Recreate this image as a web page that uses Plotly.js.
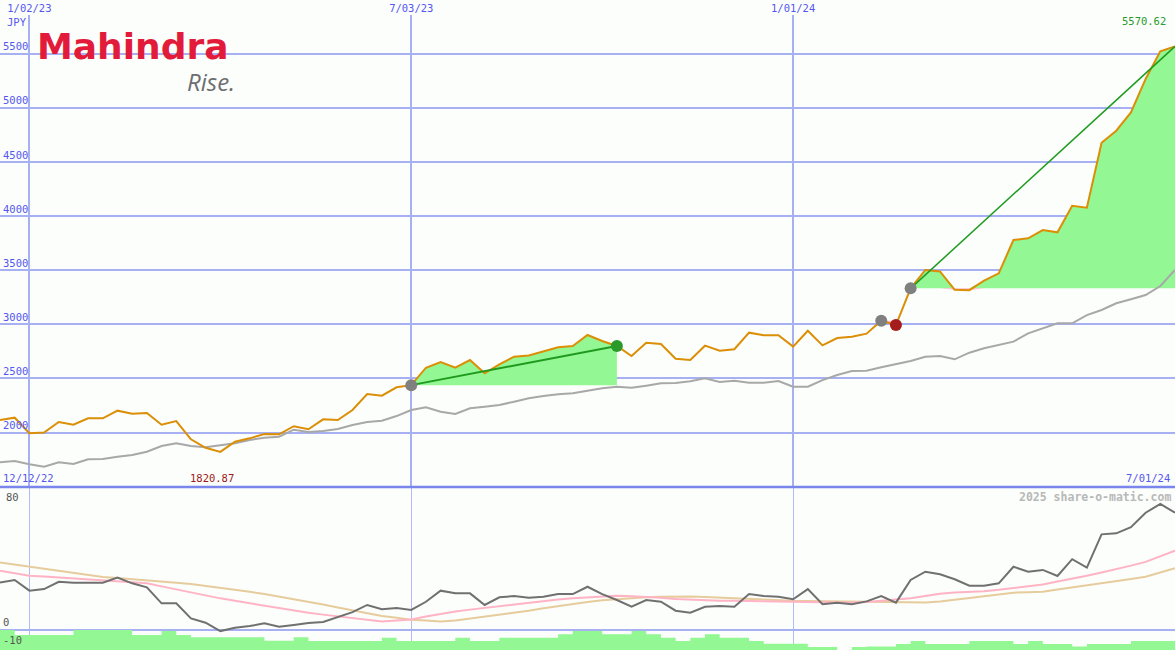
<!DOCTYPE html>
<html>
<head>
<meta charset="utf-8">
<script src="https://cdn.plot.ly/plotly-3.0.1.min.js"></script>
<style>
  html, body { margin: 0; padding: 0; background: #fbfefb; }
  #chart { width: 1175px; height: 650px; }
</style>
</head>
<body>
<div id="chart"></div>
<script>
// ---------- data (weekly closes, JPY) ----------
const startDate = '2022-12-19';   // first weekly observation
const nWeeks = 81;
const dates = [];
(function () {
  const d = new Date(startDate + 'T00:00:00Z');
  for (let k = 0; k < nWeeks; k++) {
    dates.push(d.toISOString().slice(0, 10));
    d.setUTCDate(d.getUTCDate() + 7);
  }
})();

const price = [
  2115, 2137, 1993, 1999, 2097, 2072, 2131, 2131, 2202, 2174,
  2180, 2072, 2106, 1937, 1859, 1820.87, 1915, 1946, 1986, 1983,
  2058, 2030, 2122, 2116, 2208, 2356, 2340, 2418, 2438, 2599,
  2652, 2599, 2670, 2547, 2630, 2701, 2713, 2751, 2788, 2800,
  2902, 2846, 2800, 2707, 2830, 2818, 2682, 2670, 2803, 2757,
  2770, 2923, 2899, 2899, 2794, 2941, 2806, 2874, 2886, 2914,
  3034, 2994, 3333, 3503, 3490, 3320, 3316, 3404, 3472, 3780,
  3796, 3872, 3851, 4097, 4079, 4680, 4791, 4960, 5270, 5525,
  5570.62
];

const movingAvg = [
  1724, 1736, 1706, 1684, 1724, 1709, 1752, 1755, 1776, 1792,
  1822, 1875, 1900, 1875, 1863, 1878, 1900, 1931, 1952, 1961,
  2026, 2004, 2014, 2032, 2069, 2097, 2109, 2152, 2208, 2233,
  2192, 2171, 2224, 2238, 2254, 2285, 2316, 2337, 2353, 2362,
  2384, 2409, 2423, 2414, 2433, 2455, 2458, 2473, 2501, 2467,
  2479, 2460, 2460, 2476, 2423, 2423, 2485, 2532, 2569, 2571,
  2603, 2633, 2661, 2701, 2707, 2677, 2738, 2779, 2809, 2840,
  2917, 2963, 3010, 3010, 3086, 3133, 3195, 3232, 3271, 3355,
  3503
];

const oscillator = [
  26.5, 28.0, 22.0, 22.9, 27.0, 26.5, 26.5, 26.5, 29.3, 26.1,
  23.9, 14.9, 14.9, 6.5, 4.1, -0.6, 1.3, 2.2, 3.7, 1.8,
  2.8, 3.9, 4.5, 7.3, 10.0, 14.0, 11.6, 12.3, 11.2, 15.8,
  22.0, 20.5, 20.5, 14.0, 18.3, 19.0, 18.1, 18.6, 20.1, 20.1,
  24.2, 20.1, 16.8, 13.0, 16.8, 15.8, 10.8, 9.7, 13.0, 13.4,
  13.0, 20.1, 19.0, 18.6, 17.2, 22.9, 14.4, 15.3, 14.4, 16.0,
  19.0, 15.3, 28.0, 32.6, 31.2, 28.4, 24.8, 24.8, 26.1, 35.4,
  32.6, 33.6, 30.2, 39.6, 34.9, 53.5, 54.1, 57.5, 65.6, 70.5,
  65.6
];

const signalFast = [
  33.2, 31.8, 30.4, 29.9, 29.4, 28.9, 28.4, 27.9, 27.4, 26.8,
  26.2, 24.4, 22.7, 20.8, 19.0, 17.7, 16.3, 14.9, 13.6, 12.2,
  10.8, 9.6, 8.6, 7.6, 6.5, 5.5, 4.7, 5.3, 5.9, 7.6,
  9.1, 10.3, 11.4, 12.4, 13.4, 14.4, 15.3, 16.2, 17.0, 17.7,
  18.3, 18.9, 19.1, 18.9, 18.6, 18.0, 17.3, 16.9, 16.6, 16.4,
  16.4, 16.3, 16.1, 15.8, 15.7, 15.6, 15.4, 15.4, 15.3, 15.7,
  16.3, 16.8, 17.7, 19.0, 20.3, 21.0, 21.3, 21.7, 22.5, 23.4,
  24.4, 25.5, 27.1, 28.6, 30.4, 32.2, 34.0, 36.0, 38.1, 41.3,
  44.4
];

const signalSlow = [
  37.7, 36.5, 35.5, 34.3, 33.1, 31.9, 30.8, 29.7, 29.1, 28.5,
  28.1, 27.3, 26.5, 25.7, 24.7, 23.7, 22.5, 21.4, 20.1, 18.7,
  17.3, 15.8, 14.3, 12.6, 11.0, 9.4, 7.8, 6.8, 5.7, 5.3,
  4.8, 5.3, 6.4, 7.4, 8.4, 9.4, 10.8, 12.2, 13.4, 14.7,
  15.7, 16.6, 17.3, 17.8, 18.3, 18.6, 18.9, 18.8, 18.5, 18.1,
  17.6, 17.1, 16.7, 16.4, 16.3, 16.2, 16.1, 16.0, 15.9, 15.8,
  15.8, 15.7, 15.4, 15.4, 15.9, 17.1, 17.9, 18.9, 19.9, 20.9,
  21.1, 21.4, 22.7, 23.8, 24.8, 26.0, 27.3, 28.5, 29.8, 32.2,
  34.5
];

const volumeBars = [
  0, -2.8, -2.8, -2.8, -2.8, 0, 0, 0, 0, -2.8,
  -2.8, -0.6, -2.8, -4.1, -4.1, -4.1, -4.1, -4.1, -6.0, -6.0,
  -4.1, -6.2, -6.2, -6.2, -6.2, -6.2, -4.3, -6.2, -6.2, -6.2,
  -6.2, -4.3, -6.2, -6.2, -4.3, -4.3, -4.3, -4.3, -2.4, -0.6,
  -0.6, -2.4, -2.4, -0.6, -2.4, -4.3, -6.2, -4.3, -2.4, -4.3,
  -4.3, -6.2, -7.7, -7.7, -7.7, -9.5, -9.5, -11.5, -9.5, -9.3,
  -9.3, -7.8, -6.2, -7.8, -7.8, -7.8, -6.2, -6.2, -6.2, -7.8,
  -6.2, -7.8, -7.8, -9.3, -7.8, -7.8, -7.8, -6.2, -6.2, -6.2,
  -6.2
];

// signal periods: [start index, end index]
const signalPeriods = [[28, 42], [60, 61], [62, 80]];
const greyMarkers = [28, 60, 62];
const greenMarkers = [42];
const redMarkers = [61];
const trendLines = [[28, 42], [62, 80]];

const xTickVals = ['2023-01-02', '2023-07-03', '2024-01-01'];
const xTickText = ['1/02/23', '7/03/23', '1/01/24'];
const yTickVals = [2000, 2500, 3000, 3500, 4000, 4500, 5000, 5500];
const yTickText = ['2000', '2500', '3000', '3500', '4000', '4500', '5000', '5500'];
const oscTickVals = [0, -10];
const oscTickText = ['0', '-10'];

// ---------- styling ----------
const BG = '#fbfefb';
const GRID = '#a7b0f2';
const BLUE = '#5656f0';
const GREEN_FILL = '#93f893';
const PINK_FILL = '#ffb9c6';
const MONO = 'DejaVu Sans Mono, monospace';
const split = 163 / 635;   // bottom panel share of plot height

const traces = [];

// fills for signal periods
signalPeriods.forEach(([s, e]) => {
  const xs = dates.slice(s, e + 1);
  const base = price[s];
  const pSeg = price.slice(s, e + 1);
  const baseY = xs.map(() => base);
  traces.push({x: xs, y: baseY, mode: 'lines', line: {width: 0, color: 'rgba(0,0,0,0)'}, hoverinfo: 'skip', xaxis: 'x', yaxis: 'y'});
  traces.push({x: xs, y: pSeg.map(v => Math.max(v, base)), mode: 'lines', line: {width: 0, color: 'rgba(0,0,0,0)'},
    fill: 'tonexty', fillcolor: GREEN_FILL, hoverinfo: 'skip', xaxis: 'x', yaxis: 'y'});
  traces.push({x: xs, y: baseY, mode: 'lines', line: {width: 0, color: 'rgba(0,0,0,0)'}, hoverinfo: 'skip', xaxis: 'x', yaxis: 'y'});
  traces.push({x: xs, y: pSeg.map(v => Math.min(v, base)), mode: 'lines', line: {width: 0, color: 'rgba(0,0,0,0)'},
    fill: 'tonexty', fillcolor: PINK_FILL, hoverinfo: 'skip', xaxis: 'x', yaxis: 'y'});
});

// moving average
traces.push({x: dates, y: movingAvg, mode: 'lines', line: {color: '#a8a8a8', width: 2}, xaxis: 'x', yaxis: 'y'});
// price
traces.push({x: dates, y: price, mode: 'lines', line: {color: '#db8e06', width: 2}, xaxis: 'x', yaxis: 'y'});

// trend lines
trendLines.forEach(([s, e], k) => {
  traces.push({x: [dates[s], dates[e]], y: [price[s], price[e]], mode: 'lines',
    line: {color: '#1f9a1f', width: k === 0 ? 2 : 1.5}, xaxis: 'x', yaxis: 'y'});
});

// markers
function markerTrace(idx, color) {
  return {x: idx.map(i => dates[i]), y: idx.map(i => price[i]), mode: 'markers',
    marker: {color: color, size: 12}, xaxis: 'x', yaxis: 'y'};
}
traces.push(markerTrace(greyMarkers, '#808080'));
traces.push(markerTrace(greenMarkers, '#2a9a2a'));
traces.push(markerTrace(redMarkers, '#a51c1c'));

// bottom panel: volume-like bars as stepped fill
traces.push({x: dates, y: dates.map(() => -12), mode: 'lines', line: {width: 0, color: 'rgba(0,0,0,0)'}, xaxis: 'x2', yaxis: 'y2'});
traces.push({x: dates, y: volumeBars, mode: 'lines', line: {width: 0, shape: 'hv', color: 'rgba(0,0,0,0)'},
  fill: 'tonexty', fillcolor: GREEN_FILL, xaxis: 'x2', yaxis: 'y2'});
traces.push({x: dates, y: signalSlow, mode: 'lines', line: {color: '#e6cc9c', width: 2}, xaxis: 'x2', yaxis: 'y2'});
traces.push({x: dates, y: signalFast, mode: 'lines', line: {color: '#ffb3c4', width: 2}, xaxis: 'x2', yaxis: 'y2'});
traces.push({x: dates, y: oscillator, mode: 'lines', line: {color: '#707070', width: 2}, xaxis: 'x2', yaxis: 'y2'});

const minIdx = price.indexOf(Math.min(...price));
const lastIdx = price.length - 1;

const layout = {
  width: 1175, height: 650,
  margin: {l: 0, r: 0, t: 15, b: 0, pad: 0},
  paper_bgcolor: BG, plot_bgcolor: BG,
  showlegend: false,
  hovermode: false,
  xaxis: {
    type: 'date', domain: [0, 1], anchor: 'y', side: 'top',
    range: [dates[0], dates[lastIdx]],
    tickvals: xTickVals, ticktext: xTickText, ticks: '',
    tickfont: {family: MONO, size: 10.5, color: BLUE},
    showgrid: true, gridcolor: GRID, gridwidth: 2, zeroline: false, showline: false
  },
  xaxis2: {
    type: 'date', domain: [0, 1], anchor: 'y2', matches: 'x',
    tickvals: xTickVals, showticklabels: false, ticks: '',
    showgrid: true, gridcolor: '#b4bbf4', gridwidth: 1, zeroline: false, showline: false
  },
  yaxis: {
    domain: [split, 1], range: [1496, 5861],
    tickvals: yTickVals, ticktext: yTickText, ticks: '',
    ticklabelposition: 'inside top',
    tickfont: {family: MONO, size: 10.5, color: BLUE},
    showgrid: true, gridcolor: GRID, gridwidth: 2, zeroline: false, showline: false
  },
  yaxis2: {
    domain: [0, split], range: [-11.19, 80],
    tickvals: oscTickVals, ticktext: oscTickText, ticks: '',
    ticklabelposition: 'inside top',
    tickfont: {family: MONO, size: 10.5, color: '#555555'},
    showgrid: false, zeroline: true, zerolinecolor: GRID, zerolinewidth: 2, showline: false
  },
  shapes: [
    {type: 'line', xref: 'paper', yref: 'paper', x0: 0, x1: 1, y0: split, y1: split,
     line: {color: '#7a86ec', width: 2.5}}
  ],
  annotations: [
    {xref: 'paper', yref: 'paper', x: 0, y: 1, xanchor: 'left', yanchor: 'top', xshift: 5, yshift: 1,
     text: 'JPY', showarrow: false, font: {family: MONO, size: 10.5, color: BLUE}},
    {xref: 'paper', yref: 'paper', x: 1, y: 1, xanchor: 'right', yanchor: 'top', xshift: -7, yshift: 2,
     text: price[lastIdx].toFixed(2), showarrow: false, font: {family: MONO, size: 10.5, color: '#2a9a2a'}},
    {xref: 'paper', yref: 'paper', x: 0, y: split, xanchor: 'left', yanchor: 'bottom', xshift: 1, yshift: 1,
     text: '12/12/22', showarrow: false, font: {family: MONO, size: 10.5, color: BLUE}},
    {xref: 'x', yref: 'paper', x: dates[minIdx], y: split, xanchor: 'center', yanchor: 'bottom', xshift: -8, yshift: 1,
     text: price[minIdx].toFixed(2), showarrow: false, font: {family: MONO, size: 10.5, color: '#a01818'}},
    {xref: 'paper', yref: 'paper', x: 1, y: split, xanchor: 'right', yanchor: 'bottom', xshift: -3, yshift: 1,
     text: '7/01/24', showarrow: false, font: {family: MONO, size: 10.5, color: BLUE}},
    {xref: 'paper', yref: 'y2', x: 0, y: 80, xanchor: 'left', yanchor: 'top', xshift: 4, yshift: -2,
     text: '80', showarrow: false, font: {family: MONO, size: 10.5, color: '#555555'}},
    {xref: 'paper', yref: 'y2', x: 1, y: 80, xanchor: 'right', yanchor: 'top', xshift: -2, yshift: -1,
     text: '<b>2025 share-o-matic.com</b>', showarrow: false, font: {family: MONO, size: 11.5, color: '#b8b8b8'}},
    {xref: 'paper', yref: 'paper', x: 36 / 1175, y: (650 - 68) / 635, xanchor: 'left', yanchor: 'bottom', borderpad: 0,
     text: '<b>Mahindra</b>', showarrow: false, font: {family: 'DejaVu Sans', size: 36, color: '#e31b3b'}},
    {xref: 'paper', yref: 'paper', x: 236 / 1175, y: (650 - 64) / 635, xanchor: 'right', yanchor: 'top', borderpad: 0,
     text: '<i>Rise.</i>', showarrow: false, font: {family: 'Open Sans', size: 24, color: '#6d6e71'}}
  ]
};

Plotly.newPlot('chart', traces, layout, {displayModeBar: false, staticPlot: true});
</script>
</body>
</html>
